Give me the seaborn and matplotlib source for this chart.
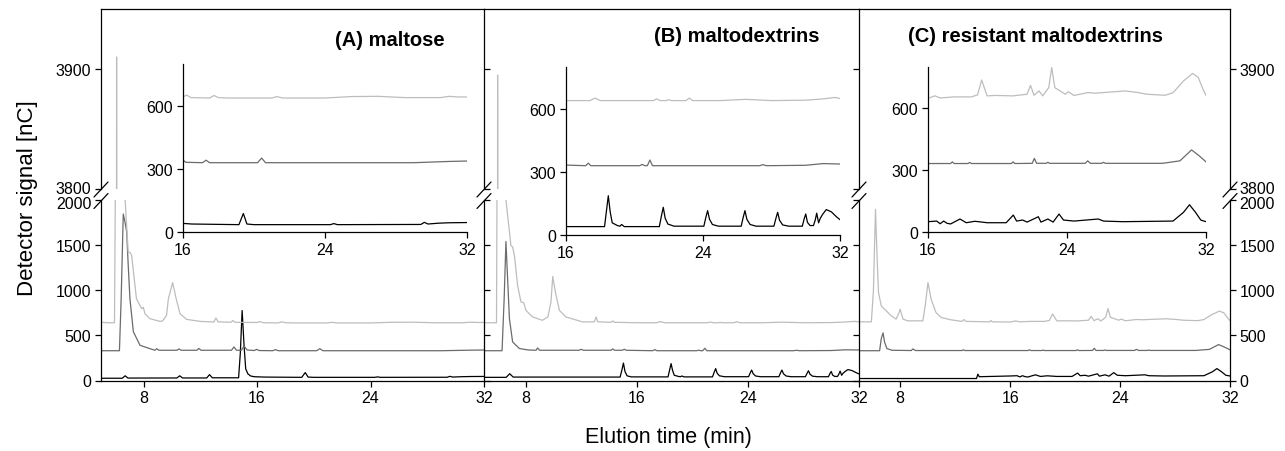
"""
Chromatograms (HPAEC-PAD) of maltose, maltodextrins and resistant maltodextrins.
Three panels with a broken y-axis and a zoomed inset (16-32 min) in each panel.
"""

import matplotlib

matplotlib.use("Agg")
import matplotlib.pyplot as plt
from matplotlib.lines import Line2D
from matplotlib.transforms import ScaledTranslation
import seaborn as sns

# ==============================================================================
# DATA: elution time (min) / detector signal (nC)
# ==============================================================================
# (A) maltose
A_BLACK_T = [5.0, 6.5, 6.7, 6.9, 10.35, 10.55, 10.75, 12.45, 12.65, 12.85, 14.7, 14.82,
             14.95, 15.08, 15.2, 15.35, 15.55, 15.8, 16.5, 19.15, 19.4, 19.6, 20.0, 24.3,
             24.5, 24.7, 29.4, 29.6, 29.8, 30.4, 31.0, 32.0]
A_BLACK_Y = [25, 25, 52, 27, 28, 52, 28, 28, 65, 30, 30, 300,
             775, 400, 130, 75, 50, 42, 38, 35, 88, 38, 35, 35,
             40, 35, 36, 46, 38, 42, 44, 45]
A_DARK_T = [5.0, 6.3, 6.42, 6.57, 6.7, 6.81, 6.92, 7.04, 7.28, 7.75, 8.45, 8.8, 8.92, 9.1,
            10.35, 10.5, 10.65, 11.75, 11.9, 12.05, 14.2, 14.37, 14.55, 14.9, 15.08, 15.3,
            15.8, 15.97, 16.15, 17.1, 17.3, 17.5, 20.2, 20.43, 20.65, 25.0, 29.0, 31.0, 32.0]
A_DARK_Y = [330, 330, 900, 1845, 1750, 1646, 1274, 906, 541, 390, 353, 335, 352, 335,
            335, 350, 335, 335, 355, 335, 335, 372, 335, 335, 382, 338,
            332, 345, 332, 330, 342, 330, 330, 352, 330, 330, 330, 336, 338]
A_LIGHT_T = [5.0, 5.5, 5.95, 6.05, 6.1, 6.16, 6.7, 6.92, 7.04, 7.16, 7.5, 7.87, 7.98, 8.1,
             8.45, 9.16, 9.34, 9.62, 9.75, 10.05, 10.3, 10.57, 11.04, 12.0, 12.95, 13.1,
             13.25, 14.15, 14.3, 14.45, 16.0, 16.2, 16.45, 17.5, 17.75, 18.0, 18.5, 21.0,
             21.3, 21.6, 24.0, 25.5, 27.0, 28.5, 30.5, 31.0, 31.5, 32.0]
A_LIGHT_Y = [645, 640, 640, 3000, 3910, 3000, 2000, 1422, 1420, 1385, 906, 796, 812, 740,
             685, 655, 660, 722, 906, 1085, 906, 740, 677, 655, 648, 693,
             650, 645, 665, 645, 643, 652, 640, 638, 650, 640, 638, 638,
             645, 638, 638, 645, 646, 640, 640, 646, 643, 643]

# (B) maltodextrins
B_BLACK_T = [5.0, 6.6, 6.85, 7.1, 14.8, 14.92, 15.04, 15.15, 15.3, 15.6, 18.25, 18.37,
             18.47, 18.58, 18.7, 19.0, 19.15, 19.25, 19.4, 21.45, 21.57, 21.68, 21.79,
             21.95, 22.1, 22.3, 24.05, 24.17, 24.27, 24.38, 24.55, 24.9, 26.23, 26.35,
             26.45, 26.56, 26.75, 27.1, 28.14, 28.26, 28.36, 28.47, 28.65, 29.0, 29.8,
             29.9, 30.0, 30.1, 30.25, 30.45, 30.55, 30.64, 30.75, 30.85, 31.0, 31.2, 31.5,
             31.8, 32.0]
B_BLACK_Y = [35, 35, 75, 38, 38, 110, 193, 100, 52, 40, 40, 120,
             187, 110, 58, 45, 42, 50, 40, 40, 90, 132, 80,
             52, 48, 42, 42, 85, 116, 75, 50, 42, 42, 85,
             116, 75, 50, 42, 42, 80, 108, 70, 48, 42, 42,
             75, 100, 60, 45, 45, 70, 104, 58, 80, 100, 121, 110,
             86, 73]
B_DARK_T = [5.0, 6.3, 6.45, 6.58, 6.7, 6.83, 7.06, 7.55, 8.2, 8.75, 8.86, 9.0, 11.85,
            11.99, 12.15, 14.15, 14.27, 14.4, 14.95, 15.1, 15.25, 17.15, 17.3, 17.45, 20.3,
            20.45, 20.6, 20.75, 20.9, 21.05, 24.0, 27.3, 27.5, 27.7, 30.0, 31.0, 32.0]
B_DARK_Y = [330, 330, 900, 1540, 1127, 685, 428, 354, 338, 335, 361, 335, 335,
            346, 335, 335, 350, 335, 335, 346, 335, 330, 342, 330, 330,
            336, 330, 330, 357, 330, 330, 330, 335, 330, 332, 340, 338]
B_LIGHT_T = [5.0, 5.75, 5.9, 5.98, 6.06, 6.58, 6.94, 7.06, 7.19, 7.42, 7.66, 7.86, 8.02,
             8.5, 9.2, 9.6, 9.82, 9.95, 10.14, 10.43, 10.9, 12.1, 12.95, 13.07, 13.2,
             14.15, 14.27, 14.4, 16.0, 17.4, 17.7, 18.0, 21.1, 21.3, 21.5, 21.85, 22.0,
             22.15, 23.0, 23.2, 23.4, 25.0, 26.5, 28.0, 30.0, 31.0, 31.7, 32.0]
B_LIGHT_Y = [640, 640, 640, 3895, 3000, 2000, 1495, 1480, 1385, 1053, 870, 862, 777,
             704, 667, 704, 870, 1153, 980, 777, 704, 649, 650, 704, 650,
             645, 660, 645, 640, 640, 652, 640, 640, 648, 640, 640, 644,
             640, 640, 652, 640, 640, 646, 640, 642, 648, 655, 650]

# (C) resistant maltodextrins
C_BLACK_T = [5.0, 13.55, 13.65, 13.75, 16.0, 16.5, 16.7, 16.9, 17.1, 17.3, 17.84, 18.2,
             18.7, 19.4, 20.5, 20.91, 21.1, 21.45, 21.7, 22.35, 22.5, 22.9, 23.2, 23.54,
             23.8, 24.4, 25.8, 26.1, 27.2, 30.1, 30.7, 31.05, 31.4, 31.7, 32.0]
C_BLACK_Y = [22, 22, 70, 42, 50, 53, 40, 53, 42, 39, 63, 45,
             52, 45, 45, 82, 53, 58, 48, 74, 48, 63, 48, 87,
             58, 53, 63, 53, 50, 53, 95, 132, 95, 58, 50]
C_DARK_T = [5.0, 6.5, 6.62, 6.75, 6.86, 7.03, 7.4, 8.8, 8.93, 9.1, 12.5, 12.6, 12.7, 17.3,
            17.4, 17.5, 18.3, 18.4, 18.5, 20.8, 20.9, 21.0, 22.0, 22.12, 22.25, 22.8, 22.9,
            23.0, 25.05, 25.19, 25.35, 26.0, 26.1, 26.2, 29.5, 30.5, 31.17, 31.6, 32.0]
C_DARK_Y = [330, 330, 464, 527, 427, 354, 335, 332, 350, 332, 332, 340, 332, 332,
            340, 332, 332, 337, 332, 332, 340, 332, 333, 357, 333, 333, 338,
            333, 333, 345, 333, 333, 338, 333, 333, 345, 398, 370, 340]
C_LIGHT_T = [5.0, 5.9, 6.05, 6.2, 6.32, 6.42, 6.62, 6.99, 7.35, 7.7, 7.9, 8.0, 8.2, 8.56,
             9.65, 9.82, 10.02, 10.25, 10.6, 10.98, 11.7, 12.5, 12.64, 12.8, 14.5, 14.6,
             14.7, 16.0, 16.4, 16.7, 17.5, 18.5, 18.85, 19.09, 19.4, 19.9, 20.9, 21.7,
             21.9, 22.1, 22.39, 22.6, 22.95, 23.12, 23.3, 23.6, 23.9, 24.07, 24.4, 25.2,
             25.6, 26.57, 27.34, 28.1, 28.6, 29.64, 30.1, 30.7, 31.23, 31.55, 31.83, 32.0]
C_LIGHT_Y = [650, 650, 1000, 1895, 1350, 975, 826, 771, 716, 680, 745, 790, 680, 661,
             661, 832, 1085, 900, 754, 698, 672, 655, 675, 655, 650, 665,
             650, 648, 660, 650, 655, 655, 665, 737, 660, 662, 660, 668,
             711, 663, 684, 660, 700, 797, 700, 684, 668, 680, 662, 676,
             673, 679, 684, 676, 668, 663, 675, 732, 769, 750, 692, 662]

PANEL_TITLES = ["(A) maltose", "(B) maltodextrins", "(C) resistant maltodextrins"]
X_TICKS = [8, 16, 24, 32]
Y_TICKS_LOW = [0, 500, 1000, 1500, 2000]
Y_TICKS_HIGH = [3800, 3900]
INSET_X_TICKS = [16, 24, 32]
INSET_Y_TICKS = [0, 300, 600]

# ==============================================================================
# LAYOUT (pixel boxes in a 1285 x 452 figure)
# ==============================================================================
FIG_W, FIG_H = 1285, 452
PANEL_X = [(101, 484), (484, 859), (859, 1230)]
TOP_ROW = (10, 190)
BOT_ROW = (201, 381.5)
INSET_BOXES = [(183, 65, 467, 233), (566, 68, 840, 236), (928, 68, 1206, 233)]
TITLE_POS = [(390, 41), (737, 37), (1035, 37)]

TRACE_COLORS = ["#000000", "#6b6b6b", "#bdbdbd"]
LINE_W = 0.9


def px_box(left, top, right, bottom):
    """Convert a pixel box (origin top-left) into a figure-fraction rect."""
    return [left / FIG_W, 1 - bottom / FIG_H, (right - left) / FIG_W, (bottom - top) / FIG_H]


def draw_traces(ax, traces):
    for (t, y), color in zip(traces, TRACE_COLORS):
        sns.lineplot(x=t, y=y, ax=ax, color=color, linewidth=LINE_W,
                     estimator=None, sort=False, legend=False)
    ax.set_xlabel("")
    ax.set_ylabel("")


def break_marks(fig, x_px):
    """Two short parallel diagonals across the broken y-axis."""
    for yc in (190.5, 202.0):
        fig.add_artist(Line2D([(x_px - 7) / FIG_W, (x_px + 7) / FIG_W],
                              [1 - (yc + 7.5) / FIG_H, 1 - (yc - 7.5) / FIG_H],
                              color="black", linewidth=0.9))


def nudge_tick_labels(fig, tick, dy_px):
    """Shift one tick's labels vertically so 3800 / 2000 do not collide."""
    for lab in (tick.label1, tick.label2):
        lab.set_transform(lab.get_transform()
                          + ScaledTranslation(0, dy_px / fig.dpi, fig.dpi_scale_trans))


def main():
    sns.set_style("ticks")
    plt.rcParams["font.family"] = ["Liberation Sans", "DejaVu Sans"]
    plt.rcParams.update({
        "axes.linewidth": 0.9,
        "axes.edgecolor": "black",
        "text.color": "black",
        "axes.labelcolor": "black",
        "xtick.color": "black",
        "ytick.color": "black",
    })

    panels = [
        [(A_BLACK_T, A_BLACK_Y), (A_DARK_T, A_DARK_Y), (A_LIGHT_T, A_LIGHT_Y)],
        [(B_BLACK_T, B_BLACK_Y), (B_DARK_T, B_DARK_Y), (B_LIGHT_T, B_LIGHT_Y)],
        [(C_BLACK_T, C_BLACK_Y), (C_DARK_T, C_DARK_Y), (C_LIGHT_T, C_LIGHT_Y)],
    ]

    fig = plt.figure(figsize=(FIG_W / 100, FIG_H / 100), dpi=100)

    for i, traces in enumerate(panels):
        x0, x1 = PANEL_X[i]
        ax_top = fig.add_axes(px_box(x0, TOP_ROW[0], x1, TOP_ROW[1]))
        ax_bot = fig.add_axes(px_box(x0, BOT_ROW[0], x1, BOT_ROW[1]))

        for ax in (ax_top, ax_bot):
            draw_traces(ax, traces)
            ax.set_xlim(5, 32)
            ax.patch.set_alpha(0)
            ax.spines["right"].set_visible(i == 2)
            ax.tick_params(labelsize=11.5, length=4, width=0.9, pad=3)

        ax_top.set_ylim(3800, 3950)
        ax_top.set_yticks(Y_TICKS_HIGH)
        ax_top.spines["bottom"].set_visible(False)
        ax_top.tick_params(axis="x", bottom=False, labelbottom=False)

        ax_bot.set_ylim(0, 2000)
        ax_bot.set_yticks(Y_TICKS_LOW)
        ax_bot.spines["top"].set_visible(False)
        ax_bot.set_xticks(X_TICKS)
        ax_bot.tick_params(axis="x", direction="out")

        for ax in (ax_top, ax_bot):
            if i == 0:
                ax.tick_params(axis="y", direction="out", left=True, labelleft=True)
            elif i == 1:
                ax.tick_params(axis="y", direction="in", left=True, labelleft=False)
            else:
                ax.tick_params(axis="y", direction="out", left=True, labelleft=False,
                               right=True, labelright=True)

        # keep "3800" and "2000" apart at the break
        nudge_tick_labels(fig, ax_top.yaxis.get_major_ticks()[0], 2.0)
        nudge_tick_labels(fig, ax_bot.yaxis.get_major_ticks()[-1], -2.0)

        ax_top.text((TITLE_POS[i][0] - x0) / (x1 - x0),
                    (TOP_ROW[1] - TITLE_POS[i][1]) / (TOP_ROW[1] - TOP_ROW[0]),
                    PANEL_TITLES[i], transform=ax_top.transAxes, ha="center",
                    va="center", fontsize=14.5, fontweight="bold")

        # zoomed inset, 16-32 min
        ax_in = fig.add_axes(px_box(*INSET_BOXES[i]), zorder=5)
        draw_traces(ax_in, traces)
        ax_in.set_xlim(16, 32)
        ax_in.set_ylim(0, 800)
        ax_in.set_xticks(INSET_X_TICKS)
        ax_in.set_yticks(INSET_Y_TICKS)
        ax_in.patch.set_alpha(0)
        sns.despine(ax=ax_in)
        ax_in.tick_params(labelsize=11.5, length=4, width=0.9, direction="out", pad=3)

        break_marks(fig, x0)
    break_marks(fig, PANEL_X[2][1])

    fig.text(28 / FIG_W, 1 - 198 / FIG_H, "Detector signal [nC]", rotation=90,
             ha="center", va="center", fontsize=16)
    fig.text(668 / FIG_W, 1 - 438 / FIG_H, "Elution time (min)",
             ha="center", va="center", fontsize=15.5)

    fig.savefig("out.png", dpi=100)
    plt.close(fig)


if __name__ == "__main__":
    main()
